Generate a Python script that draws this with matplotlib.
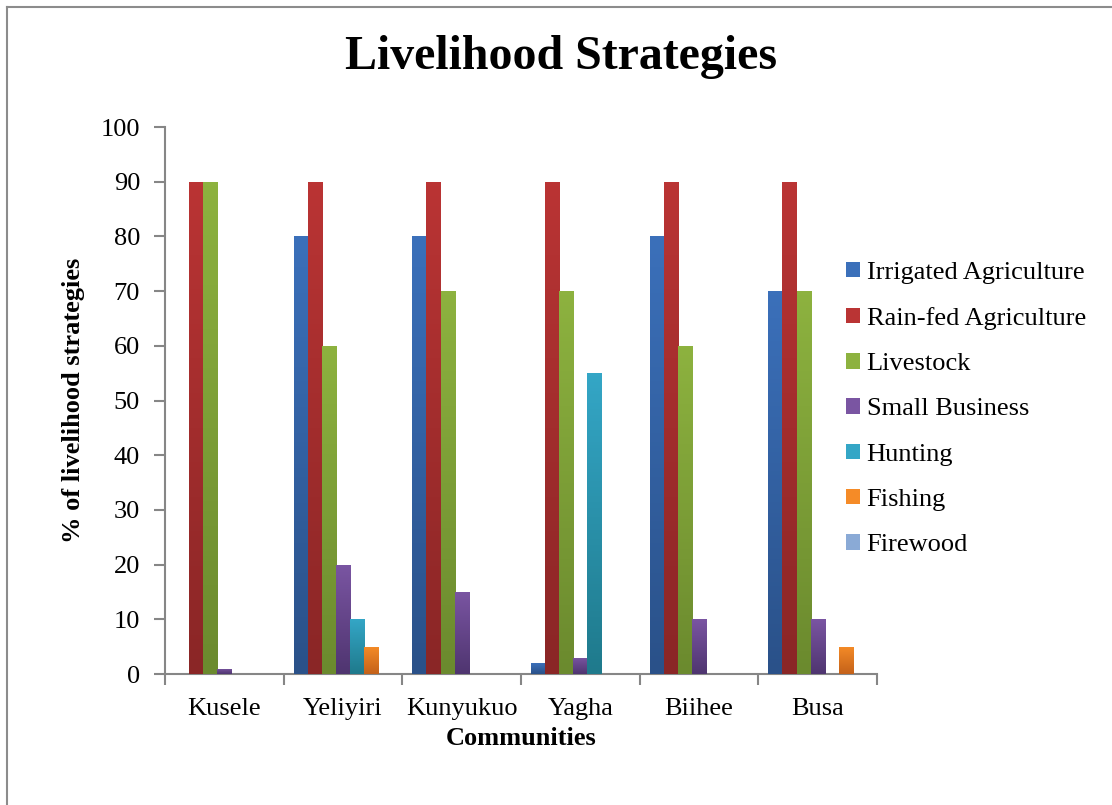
import numpy as np
import matplotlib
matplotlib.use("Agg")
import matplotlib.pyplot as plt
from matplotlib.colors import LinearSegmentedColormap
from matplotlib.patches import Rectangle
from matplotlib.lines import Line2D

communities = ["Kusele", "Yeliyiri", "Kunyukuo", "Yagha", "Biihee", "Busa"]
series = ["Irrigated Agriculture", "Rain-fed Agriculture", "Livestock",
          "Small Business", "Hunting", "Fishing", "Firewood"]
irrigated = [0, 80, 80, 2, 80, 70]
rainfed = [90, 90, 90, 90, 90, 90]
livestock = [90, 60, 70, 70, 60, 70]
small_business = [1, 20, 15, 3, 10, 10]
hunting = [0, 10, 0, 55, 0, 0]
fishing = [0, 5, 0, 0, 0, 5]
firewood = [0, 0, 0, 0, 0, 0]
values = [irrigated, rainfed, livestock, small_business, hunting, fishing, firewood]

# (top colour, bottom colour) per series - Excel style vertical gradient
colours = [("#3B70BA", "#2A5189"), ("#BA3434", "#8A2626"), ("#8DB23F", "#6B8A2E"),
           ("#7A55A2", "#4F3570"), ("#34A6C6", "#1F7A8C"), ("#F58B27", "#C4621A"),
           ("#8AAAD6", "#6585B5")]

plt.rcParams["font.family"] = ["Liberation Serif", "DejaVu Serif"]
FS = 19

fig = plt.figure(figsize=(11.12, 8.05), dpi=100)
ax = fig.add_axes([0.1484, 0.1627, 0.6403, 0.6795])

x = np.arange(len(communities))
w = 0.119
n = len(series)
grad = np.linspace(0, 1, 100).reshape(-1, 1)

for i, (name, vals) in enumerate(zip(series, values)):
    top, bottom = colours[i]
    cmap = LinearSegmentedColormap.from_list(name, [bottom, top])
    bars = ax.bar(x + (i - (n - 1) / 2) * w, vals, width=w, color=top,
                  edgecolor="none", zorder=2)
    for b in bars:
        h = b.get_height()
        if h <= 0:
            b.set_visible(False)
            continue
        x0 = b.get_x()
        im = ax.imshow(grad, extent=[x0, x0 + w, 0, h], origin="lower",
                       aspect="auto", cmap=cmap, zorder=3)
        im.set_clip_path(b)

ax.set_xlim(-0.5, len(communities) - 0.5)
ax.set_ylim(0, 100)
ax.set_yticks(range(0, 101, 10))
ax.set_xticks(x)
ax.set_xticklabels(communities)
ax.set_xticks(np.arange(-0.5, len(communities)), minor=True)
ax.tick_params(axis="x", which="major", length=0, pad=17, labelsize=FS)
ax.tick_params(axis="x", which="minor", length=8, width=1.5, color="#868686",
               direction="out")
ax.tick_params(axis="y", length=8, width=1.5, color="#868686", pad=10, labelsize=FS)

for s in ["top", "right"]:
    ax.spines[s].set_visible(False)
for s in ["left", "bottom"]:
    ax.spines[s].set_color("#868686")
    ax.spines[s].set_linewidth(1.5)

ax.set_xlabel("Communities", fontsize=FS, fontweight="bold", labelpad=5)
ax.set_ylabel("% of livelihood strategies", fontsize=FS, fontweight="bold",
              labelpad=11)
fig.text(0.5045, 0.929, "Livelihood Strategies", ha="center", va="center",
         fontsize=34.5, fontweight="bold")

handles = [Rectangle((0, 0), 1, 1, facecolor=c[0], edgecolor="none") for c in colours]
fig.legend(handles, series, loc="center left", bbox_to_anchor=(846 / 1112, 0.492),
           frameon=False, fontsize=FS, handlelength=0.53, handleheight=0.53,
           handletextpad=0.25, labelspacing=0.875, borderpad=0, borderaxespad=0)

# chart border (left and top only visible)
fig.add_artist(Line2D([0.0065, 0.0065], [0, 0.991], transform=fig.transFigure,
                      color="#8c8c8c", lw=1.5))
fig.add_artist(Line2D([0.0065, 1.0], [0.991, 0.991], transform=fig.transFigure,
                      color="#8c8c8c", lw=1.5))

fig.savefig("out.png", dpi=100)
